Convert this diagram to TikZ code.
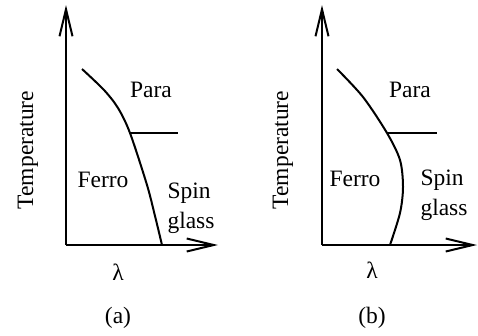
\documentclass[tikz,border=0pt]{standalone}
\usepackage{fontspec}
\setmainfont{Liberation Serif}
\usetikzlibrary{arrows.meta,positioning}

\begin{document}
\begin{tikzpicture}[x=1pt, y=-1pt,
    axis/.style={-{Straight Barb[length=27pt, width=13pt]}, line width=2pt},
    line/.style={line width=2pt},
    lbl/.style={font=\fontsize{23.5}{30}\selectfont, inner sep=0pt}
  ]
  \useasboundingbox (0,0) rectangle (478,335);

  % panel (a)
  \coordinate (oa) at (66,245);
  \draw[axis] (oa) -- (66,5);
  \draw[axis] (oa) -- (218,245);
  \coordinate (ja) at (130,133);
  \draw[line] plot[smooth] coordinates {(82,69) (104,90) (118,108) (ja) (147,185) (155,216) (162,245)};
  \draw[line] (ja) -- (178,133);
  \node[lbl] (paraA) at (151,90) {Para};
  \node[lbl] (ferroA) at (103,180) {Ferro};
  \node[lbl, align=left] (spinA) at (191,208) {Spin\\glass};
  \node[lbl, rotate=90] (tempA) at (28,150) {Temperature};
  \node[lbl] (lamA) at (118,272) {λ};
  \node[lbl] (capA) at (118,318) {(a)};

  % panel (b)
  \coordinate (ob) at (322,245);
  \draw[axis] (ob) -- (322,5);
  \draw[axis] (ob) -- (477,245);
  \coordinate (jb) at (387,133);
  \draw[line] plot[smooth] coordinates {(337,69) (363,97) (jb) (400,160) (403,187) (400,213) (390,245)};
  \draw[line] (jb) -- (437,133);
  \node[lbl] (paraB) at (410,90) {Para};
  \node[lbl] (ferroB) at (355,179) {Ferro};
  \node[lbl, align=left] (spinB) at (444,195) {Spin\\glass};
  \node[lbl, rotate=90] (tempB) at (283,150) {Temperature};
  \node[lbl] (lamB) at (372,270) {λ};
  \node[lbl] (capB) at (372,318) {(b)};
\end{tikzpicture}
\end{document}
